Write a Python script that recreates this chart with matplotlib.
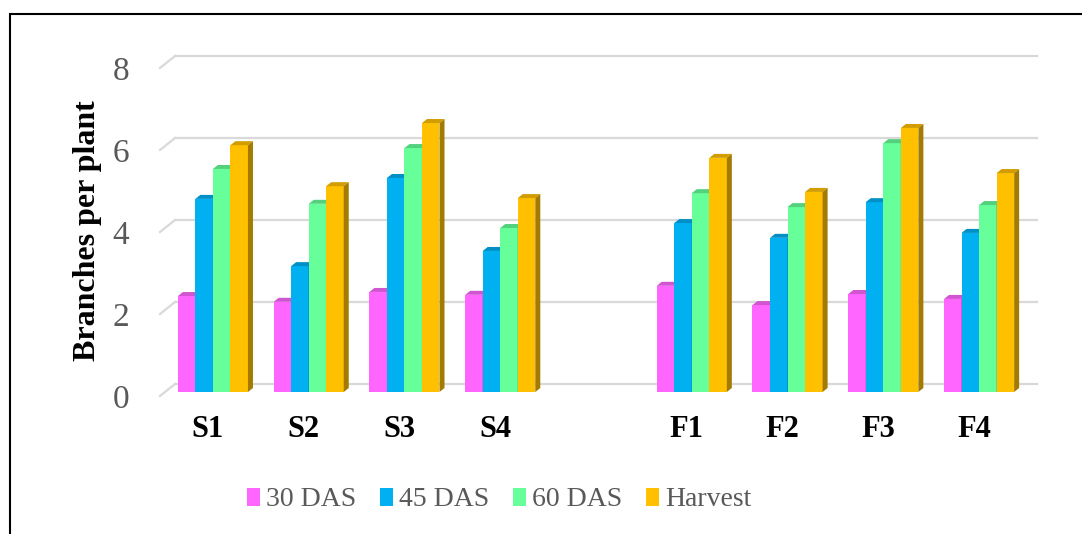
import matplotlib
matplotlib.use("Agg")
import matplotlib.pyplot as plt
from matplotlib.patches import Polygon, Rectangle
from matplotlib.lines import Line2D
from matplotlib.colors import to_rgb

# ---- data -------------------------------------------------------------
categories = ["S1", "S2", "S3", "S4", "F1", "F2", "F3", "F4"]
series_names = ["30 DAS", "45 DAS", "60 DAS", "Harvest"]
das30 = [2.34, 2.20, 2.44, 2.37, 2.59, 2.12, 2.39, 2.27]
das45 = [4.71, 3.07, 5.22, 3.44, 4.12, 3.76, 4.63, 3.88]
das60 = [5.44, 4.59, 5.95, 4.00, 4.85, 4.51, 6.07, 4.56]
harvest = [6.02, 5.02, 6.56, 4.73, 5.71, 4.88, 6.44, 5.34]
y_ticks = [0, 2, 4, 6, 8]

series = [das30, das45, das60, harvest]
colors = ["#ff66ff", "#00b0f0", "#66ff99", "#ffc000"]

# ---- styling ----------------------------------------------------------
plt.rcParams["font.family"] = ["Liberation Serif", "DejaVu Serif"]
GRID = "#d9d9d9"
TEXT_GRAY = "#595959"

W, H = 1082, 534
fig = plt.figure(figsize=(W / 100, H / 100), dpi=100)
fig.patch.set_facecolor("white")

# pseudo-3D depth of the plot box (category units, value units)
DX, DY = 0.157, 0.293
n_slots = len(categories) + 1          # one empty slot between S and F groups
bar_w = 0.183
bar_depth = 1.0 / 3.0                  # bars sit in the middle third of the depth

ax = fig.add_axes([160 / W, (H - 396) / H, 877 / W, 340 / H])
ax.set_xlim(0, n_slots + DX)
ax.set_ylim(0, y_ticks[-1] + DY)
for s in ax.spines.values():
    s.set_visible(False)
ax.set_facecolor("none")

# gridlines on the back wall plus the short slanted segment on the side wall
for v in y_ticks:
    ax.add_line(Line2D([DX, n_slots + DX], [v + DY, v + DY], color=GRID,
                       lw=1.6, zorder=1, clip_on=False))
    ax.add_line(Line2D([0, DX], [v, v + DY], color=GRID, lw=1.6,
                       zorder=1, clip_on=False))


def shade(c, f):
    r, g, b = to_rgb(c)
    return (r * f, g * f, b * f)


ox, oy = DX * bar_depth, DY * bar_depth   # front-face offset into the depth
sx, sy = DX * bar_depth, DY * bar_depth   # thickness of the bar body

slots = [i + (1 if i >= 4 else 0) for i in range(len(categories))]
z = 2
for k, slot in enumerate(slots):
    center = slot + 0.5
    for j, (vals, col) in enumerate(zip(series, colors)):
        v = vals[k]
        left = center - 2 * bar_w + j * bar_w + ox
        bot = oy
        top = oy + v
        right = left + bar_w
        # front face
        ax.bar(left, v, width=bar_w, bottom=bot, align="edge", color=col,
               edgecolor="none", zorder=z, clip_on=False)
        # top face
        ax.add_patch(Polygon([(left, top), (right, top), (right + sx, top + sy),
                              (left + sx, top + sy)], closed=True,
                             facecolor=shade(col, 0.82), edgecolor="none",
                             zorder=z, clip_on=False))
        # side face
        ax.add_patch(Polygon([(right, bot), (right + sx, bot + sy),
                              (right + sx, top + sy), (right, top)], closed=True,
                             facecolor=shade(col, 0.64), edgecolor="none",
                             zorder=z, clip_on=False))
        z += 1

# axes ticks and labels
ax.set_yticks(y_ticks)
ax.set_yticklabels([str(t) for t in y_ticks], fontsize=24, color=TEXT_GRAY)
ax.set_xticks([s + 0.5 for s in slots])
ax.set_xticklabels(categories, fontsize=22, fontweight="bold", color="black")
ax.tick_params(axis="y", length=0, pad=22)
ax.tick_params(axis="x", length=0, pad=14)

ax.set_ylabel("Branches per plant", fontsize=23, fontweight="bold",
              color="black", va="center")
ax.yaxis.set_label_coords((88 - 160) / 877, (396 - 231) / 340)

# legend
handles = [Rectangle((0, 0), 1, 1, facecolor=c, edgecolor="none") for c in colors]
leg = fig.legend(handles, series_names, loc="center",
                 bbox_to_anchor=(499 / W, 1 - 500 / H), ncol=4, frameon=False,
                 fontsize=20, handlelength=0.47, handleheight=0.6,
                 handletextpad=0.22, columnspacing=0.85, borderaxespad=0)
for t in leg.get_texts():
    t.set_color(TEXT_GRAY)

# chart frame (runs off the right and bottom edges)
fig.add_artist(Rectangle((10 / W, -0.2), 1.5, 1.2 - 14 / H,
                         transform=fig.transFigure, fill=False,
                         edgecolor="black", lw=1.5, clip_on=False))

fig.savefig("out.png", dpi=100)
